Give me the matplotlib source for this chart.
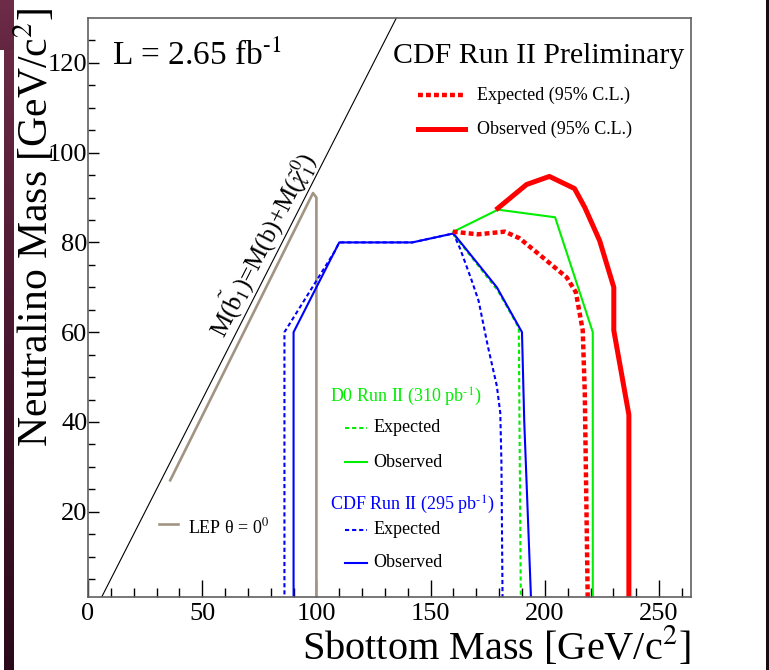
import numpy as np
import matplotlib
matplotlib.use('Agg')
import matplotlib.pyplot as plt
from matplotlib.lines import Line2D

plt.rcParams['font.family'] = ['Liberation Serif', 'DejaVu Serif']
plt.rcParams['mathtext.fontset'] = 'stix'

# exclusion contours, sbottom mass vs neutralino mass (GeV/c^2)
lep_x = [36, 98.5, 100, 100]
lep_y = [27, 91, 90, 0]

cdf_obs_x = [90, 90, 110, 142, 160, 179, 190, 191, 192.5, 194]
cdf_obs_y = [0, 60, 80, 80, 82, 70, 60, 40, 20, 0]
cdf_exp_x = [86, 86, 108, 110, 142, 160, 163, 168, 171, 175, 179, 180.5, 181, 181.5]
cdf_exp_y = [0, 60, 78, 80, 80, 82, 78.5, 71.5, 67, 57, 48, 42, 31, 0]

d0_obs_x = [160, 179.5, 204.5, 221, 221]
d0_obs_y = [82.4, 87.3, 85.6, 60, 0]
d0_exp_x = [160.5, 179.4, 188.6, 189.5]
d0_exp_y = [81.5, 69.3, 61, 0]

new_obs_x = [179.4, 192, 202, 213, 217.5, 224, 230.2, 230.2, 236.8, 236.8]
new_obs_y = [87.6, 92.9, 94.7, 92, 87.8, 80.4, 70, 60.4, 41.6, 0]
new_exp_x = [159.7, 170.7, 182.5, 189, 199, 209.6, 213.6, 216.6, 217.5, 218.8]
new_exp_y = [82.4, 81.8, 82.4, 80.9, 76.7, 72.2, 68.9, 60.4, 46.4, 0]

# kinematic limit M(sb) = M(b) + M(chi)
m_b = 5
kin_x = np.array([0, 265])
kin_y = kin_x - m_b

RED = '#ff0000'
GREEN = '#00ee00'
BLUE = '#0000ff'
LEP = '#a29482'

fig = plt.figure(figsize=(7.69, 6.70), dpi=100)
fig.patch.set_facecolor('white')

# dark border strips
W, H = 769.0, 670.0
grad = np.linspace(0, 1, 200).reshape(-1, 1)
cmap = matplotlib.colors.LinearSegmentedColormap.from_list('bg', ['#6e2c48', '#4a1830', '#2a0a1a'])
sa = fig.add_axes([4 / W, 0, 10 / W, 1])
sa.imshow(grad, aspect='auto', cmap=cmap)
sa.set_axis_off()
ta = fig.add_axes([0, 1 - 50 / H, 14 / W, 50 / H])
ta.imshow(grad[:30], aspect='auto', cmap=cmap, vmin=0, vmax=1)
ta.set_axis_off()
ra = fig.add_axes([766 / W, 0, 3 / W, 1])
ra.set_facecolor('#1a0a14')
ra.set_xticks([]); ra.set_yticks([])
for s in ra.spines.values():
    s.set_visible(False)

ax = fig.add_axes([88 / W, 73 / H, 603 / W, 579 / H])
ax.set_xlim(0, 264)
ax.set_ylim(1, 130)

ax.plot(kin_x, kin_y, color='black', lw=0.8)
ax.plot(lep_x, lep_y, color=LEP, lw=1.9)

ax.plot(cdf_exp_x, cdf_exp_y, color=BLUE, lw=1.5, dashes=(2, 1.4))
ax.plot(d0_exp_x, d0_exp_y, color=GREEN, lw=1.5, dashes=(2, 1.4))
ax.plot(cdf_obs_x, cdf_obs_y, color=BLUE, lw=1.5)
ax.plot(d0_obs_x, d0_obs_y, color=GREEN, lw=1.5)
ax.plot(new_exp_x, new_exp_y, color=RED, lw=3.2, dashes=(1.1, 0.7))
ax.plot(new_obs_x, new_obs_y, color=RED, lw=3.6, solid_joinstyle='round')

ax.set_xticks(np.arange(0, 251, 50))
ax.set_xticks(np.arange(0, 264, 10), minor=True)
ax.set_yticks(np.arange(20, 121, 20))
ax.set_yticks(np.arange(5, 130, 5), minor=True)
ax.tick_params(axis='both', which='both', direction='in', top=False, right=False,
               labelsize=19, width=1)
ax.tick_params(axis='x', which='major', length=12, pad=4)
ax.tick_params(axis='x', which='minor', length=6.5)
ax.tick_params(axis='y', which='major', length=8, pad=0.5)
ax.tick_params(axis='y', which='minor', length=5)
for s in ax.spines.values():
    s.set_color('#606060')
    s.set_linewidth(1.2)

fig.text(57 / W, 1 - 8 / H, r'Neutralino Mass [GeV/c$^{2}$]', rotation=90,
         ha='right', va='top', fontsize=30)
fig.text(691 / W, 1 - 647 / H, r'Sbottom Mass [GeV/c$^{2}$]',
         ha='right', va='center', fontsize=29)

ax.text(76, 79.5, r'M($\tilde{\mathrm{b}}_{1}$)=M(b)+M($\tilde{\chi}^{0}_{1}$)',
        rotation=45, transform_rotates_text=True, rotation_mode='anchor',
        ha='center', va='center', fontsize=18)

ta_kw = dict(transform=ax.transAxes, va='center', ha='left')
ax.text(0.040, 0.935, r'L = 2.65 fb$^{\text{-1}}$', fontsize=24, **ta_kw)
ax.text(0.506, 0.935, 'CDF Run II Preliminary', fontsize=21.5, **ta_kw)

def sample(x0, x1, y, **kw):
    ax.add_line(Line2D([x0, x1], [y, y], transform=ax.transAxes, **kw))

sample(0.547, 0.625, 0.867, color=RED, lw=3.2, dashes=(1.1, 0.7))
sample(0.547, 0.625, 0.808, color=RED, lw=3.6)
ax.text(0.645, 0.867, 'Expected (95% C.L.)', fontsize=13, **ta_kw)
ax.text(0.645, 0.808, 'Observed (95% C.L.)', fontsize=13, **ta_kw)

ax.text(0.401, 0.345, r'D0 Run II (310 pb$^{\text{-1}}$)', fontsize=13, color=GREEN, **ta_kw)
sample(0.426, 0.463, 0.292, color=GREEN, lw=1.5, dashes=(2, 1.4))
ax.text(0.473, 0.292, 'Expected', fontsize=13, **ta_kw)
sample(0.426, 0.463, 0.233, color=GREEN, lw=1.5)
ax.text(0.473, 0.233, 'Observed', fontsize=13, **ta_kw)

ax.text(0.401, 0.159, r'CDF Run II (295 pb$^{\text{-1}}$)', fontsize=13, color=BLUE, **ta_kw)
sample(0.426, 0.463, 0.116, color=BLUE, lw=1.5, dashes=(2, 1.4))
ax.text(0.473, 0.116, 'Expected', fontsize=13, **ta_kw)
sample(0.426, 0.463, 0.059, color=BLUE, lw=1.5)
ax.text(0.473, 0.059, 'Observed', fontsize=13, **ta_kw)

sample(0.118, 0.149, 0.126, color=LEP, lw=1.9)
ax.text(0.166, 0.121, r'LEP θ = 0$^{\mathrm{0}}$', fontsize=13, **ta_kw)

fig.savefig('out.png', dpi=100)
